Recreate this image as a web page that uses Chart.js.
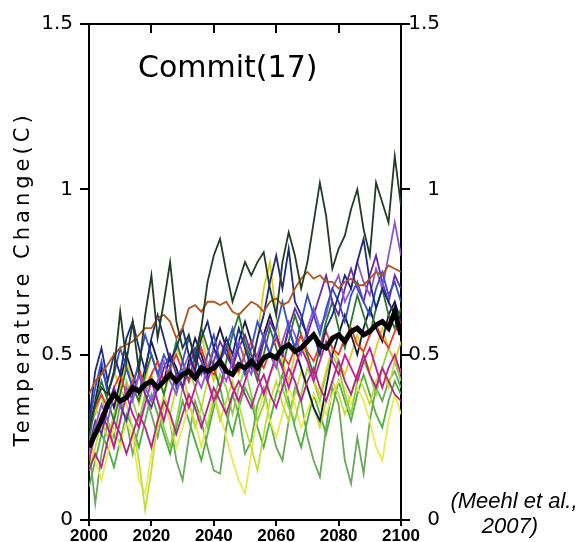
<!DOCTYPE html>
<html>
<head>
<meta charset="utf-8">
<script src="https://cdn.jsdelivr.net/npm/chart.js@4.4.1/dist/chart.umd.min.js"></script>
<style>
  html, body { margin: 0; padding: 0; background: #fff; }
</style>
</head>
<body>
<canvas id="chart" width="586" height="542"></canvas>
<script>
// years sampled every 2 years
const years = [2000,2002,2004,2006,2008,2010,2012,2014,2016,2018,
               2020,2022,2024,2026,2028,2030,2032,2034,2036,2038,
               2040,2042,2044,2046,2048,2050,2052,2054,2056,2058,
               2060,2062,2064,2066,2068,2070,2072,2074,2076,2078,
               2080,2082,2084,2086,2088,2090,2092,2094,2096,2098,
               2100];

const xTickValues = [2000, 2020, 2040, 2060, 2080, 2100];
const yTickValues = [0, 0.5, 1, 1.5];
const yTickLabels = ['0', '0.5', '1', '1.5'];

// ensemble mean (thick black)
const ensembleMean = [0.22,0.26,0.30,0.35,0.38,0.36,0.37,0.40,0.39,0.41,
                      0.42,0.40,0.42,0.44,0.42,0.44,0.45,0.43,0.46,0.45,
                      0.46,0.48,0.45,0.44,0.47,0.46,0.48,0.46,0.49,0.50,
                      0.49,0.52,0.53,0.51,0.52,0.54,0.56,0.53,0.52,0.55,
                      0.56,0.54,0.57,0.58,0.56,0.57,0.59,0.60,0.58,0.63,
                      0.56];

// the 17 committed-climate runs
const runDarkGreen = [0.28,0.35,0.40,0.38,0.45,0.63,0.48,0.60,0.45,0.62,
                      0.74,0.55,0.66,0.78,0.60,0.52,0.56,0.48,0.58,0.72,
                      0.80,0.85,0.75,0.66,0.72,0.78,0.74,0.78,0.81,0.70,
                      0.62,0.78,0.87,0.80,0.70,0.78,0.90,1.02,0.92,0.76,
                      0.82,0.86,0.94,1.00,0.88,0.80,1.02,0.96,0.90,1.10,
                      0.95];
const runBrown = [0.38,0.42,0.44,0.47,0.50,0.52,0.53,0.54,0.56,0.58,
                  0.58,0.61,0.62,0.60,0.55,0.58,0.64,0.65,0.63,0.66,
                  0.66,0.65,0.66,0.63,0.62,0.64,0.66,0.65,0.63,0.66,
                  0.67,0.65,0.66,0.70,0.73,0.75,0.73,0.74,0.72,0.72,
                  0.70,0.72,0.73,0.71,0.71,0.73,0.75,0.74,0.77,0.76,
                  0.75];
const runNavy = [0.30,0.45,0.52,0.42,0.50,0.44,0.55,0.60,0.52,0.45,
                 0.55,0.62,0.55,0.48,0.52,0.58,0.50,0.45,0.55,0.60,
                 0.52,0.48,0.55,0.50,0.58,0.52,0.46,0.55,0.62,0.72,
                 0.80,0.70,0.82,0.66,0.62,0.55,0.56,0.50,0.58,0.62,
                 0.68,0.74,0.70,0.78,0.85,0.72,0.64,0.70,0.66,0.62,
                 0.58];
const runBlue = [0.28,0.40,0.48,0.38,0.44,0.52,0.46,0.40,0.48,0.56,
                 0.50,0.44,0.50,0.46,0.40,0.48,0.55,0.50,0.44,0.50,
                 0.56,0.48,0.52,0.58,0.50,0.44,0.52,0.60,0.55,0.50,
                 0.58,0.66,0.58,0.52,0.60,0.68,0.62,0.56,0.64,0.70,
                 0.66,0.60,0.68,0.72,0.66,0.62,0.70,0.75,0.68,0.72,
                 0.66];
const runPurple = [0.20,0.28,0.35,0.30,0.38,0.34,0.40,0.36,0.44,0.40,
                   0.36,0.42,0.48,0.42,0.38,0.45,0.50,0.44,0.40,0.46,
                   0.52,0.46,0.42,0.48,0.54,0.48,0.44,0.50,0.56,0.50,
                   0.46,0.54,0.60,0.56,0.50,0.58,0.64,0.58,0.62,0.70,
                   0.74,0.66,0.70,0.78,0.72,0.68,0.76,0.70,0.80,0.90,
                   0.80];
const runViolet = [0.22,0.30,0.26,0.34,0.40,0.35,0.30,0.38,0.44,0.38,
                   0.34,0.40,0.46,0.50,0.44,0.40,0.46,0.52,0.48,0.42,
                   0.48,0.54,0.50,0.46,0.52,0.56,0.50,0.46,0.54,0.60,
                   0.56,0.50,0.58,0.64,0.60,0.56,0.62,0.68,0.74,0.66,
                   0.62,0.70,0.76,0.70,0.66,0.74,0.80,0.72,0.66,0.74,
                   0.70];
const runMagenta = [0.18,0.26,0.32,0.28,0.22,0.30,0.38,0.32,0.28,0.35,
                    0.42,0.36,0.30,0.38,0.44,0.40,0.34,0.40,0.46,0.42,
                    0.36,0.40,0.46,0.40,0.36,0.42,0.48,0.44,0.38,0.44,
                    0.50,0.46,0.40,0.46,0.52,0.48,0.42,0.48,0.54,0.48,
                    0.44,0.50,0.46,0.42,0.48,0.52,0.46,0.40,0.46,0.50,
                    0.44];
const runPink = [0.15,0.20,0.16,0.24,0.30,0.26,0.20,0.26,0.32,0.28,
                 0.22,0.30,0.36,0.32,0.26,0.32,0.38,0.34,0.28,0.34,
                 0.40,0.36,0.32,0.38,0.42,0.38,0.34,0.40,0.44,0.38,
                 0.34,0.40,0.46,0.42,0.36,0.42,0.46,0.40,0.36,0.42,
                 0.48,0.42,0.38,0.44,0.50,0.44,0.40,0.46,0.42,0.38,
                 0.36];
const runRed = [0.30,0.34,0.38,0.34,0.40,0.44,0.38,0.42,0.46,0.40,
                0.44,0.48,0.42,0.46,0.50,0.45,0.42,0.47,0.52,0.46,
                0.44,0.49,0.53,0.48,0.45,0.50,0.54,0.49,0.46,0.51,
                0.55,0.50,0.47,0.52,0.56,0.51,0.48,0.53,0.57,0.52,
                0.50,0.55,0.58,0.53,0.51,0.56,0.59,0.55,0.52,0.57,
                0.60];
const runGreenDeep = [0.24,0.35,0.42,0.36,0.30,0.38,0.46,0.40,0.36,0.44,
                      0.50,0.44,0.38,0.46,0.54,0.48,0.42,0.50,0.58,0.52,
                      0.46,0.40,0.48,0.56,0.62,0.54,0.48,0.42,0.50,0.58,
                      0.52,0.46,0.54,0.62,0.56,0.50,0.44,0.52,0.60,0.66,
                      0.58,0.52,0.60,0.68,0.62,0.56,0.64,0.70,0.62,0.58,
                      0.64];
const runDarkNavy = [0.26,0.36,0.46,0.40,0.34,0.42,0.50,0.44,0.38,0.46,
                     0.54,0.48,0.42,0.50,0.46,0.40,0.48,0.55,0.50,0.44,
                     0.52,0.58,0.52,0.46,0.54,0.60,0.54,0.48,0.56,0.62,
                     0.56,0.50,0.58,0.52,0.46,0.40,0.34,0.30,0.40,0.50,
                     0.56,0.62,0.56,0.50,0.58,0.64,0.58,0.54,0.62,0.66,
                     0.60];
const runOchre = [0.30,0.35,0.28,0.38,0.45,0.40,0.48,0.42,0.35,0.42,
                  0.50,0.45,0.38,0.44,0.52,0.48,0.42,0.50,0.56,0.48,
                  0.42,0.50,0.55,0.48,0.44,0.52,0.48,0.55,0.70,0.78,
                  0.62,0.48,0.42,0.50,0.56,0.48,0.42,0.38,0.45,0.52,
                  0.48,0.44,0.50,0.56,0.50,0.45,0.52,0.58,0.52,0.48,
                  0.54];
const runLightGreen = [0.28,0.32,0.38,0.30,0.22,0.30,0.42,0.36,0.30,0.38,
                       0.44,0.36,0.28,0.22,0.30,0.40,0.46,0.40,0.34,0.28,
                       0.36,0.44,0.40,0.32,0.40,0.46,0.38,0.30,0.35,0.44,
                       0.48,0.40,0.34,0.30,0.38,0.46,0.42,0.36,0.44,0.50,
                       0.46,0.38,0.32,0.42,0.48,0.44,0.38,0.46,0.52,0.48,
                       0.42];
const runYellowGreen = [0.15,0.22,0.30,0.25,0.32,0.40,0.35,0.28,0.18,0.03,
                        0.15,0.30,0.38,0.32,0.40,0.45,0.36,0.28,0.34,0.42,
                        0.38,0.30,0.36,0.42,0.35,0.28,0.22,0.15,0.26,0.36,
                        0.42,0.35,0.30,0.38,0.45,0.40,0.34,0.28,0.36,0.42,
                        0.38,0.32,0.38,0.44,0.40,0.35,0.42,0.46,0.40,0.48,
                        0.45];
const runYellow = [0.25,0.18,0.12,0.20,0.28,0.22,0.30,0.25,0.12,0.08,
                   0.20,0.28,0.35,0.30,0.22,0.28,0.35,0.30,0.22,0.30,
                   0.38,0.32,0.25,0.18,0.12,0.08,0.20,0.32,0.38,0.30,
                   0.25,0.32,0.40,0.35,0.28,0.33,0.38,0.35,0.32,0.38,
                   0.42,0.40,0.35,0.40,0.36,0.30,0.22,0.18,0.30,0.38,
                   0.32];
const runSage = [0.22,0.05,0.20,0.30,0.25,0.35,0.30,0.20,0.28,0.38,
                 0.32,0.25,0.35,0.30,0.18,0.12,0.25,0.36,0.30,0.22,
                 0.15,0.14,0.28,0.38,0.32,0.20,0.24,0.35,0.40,0.30,
                 0.22,0.18,0.30,0.40,0.36,0.25,0.18,0.13,0.28,0.40,
                 0.35,0.18,0.11,0.25,0.14,0.30,0.40,0.36,0.42,0.45,
                 0.40];
const runGrass = [0.10,0.18,0.26,0.22,0.16,0.24,0.32,0.28,0.22,0.30,
                  0.38,0.32,0.26,0.20,0.28,0.36,0.30,0.24,0.18,0.26,
                  0.34,0.40,0.32,0.26,0.34,0.40,0.36,0.28,0.22,0.30,
                  0.38,0.44,0.36,0.28,0.22,0.30,0.38,0.32,0.26,0.34,
                  0.42,0.36,0.30,0.38,0.44,0.38,0.32,0.28,0.36,0.42,
                  0.38];

const runs = [
  [runDarkGreen, '#1f3d22'],
  [runBrown, '#b0561a'],
  [runNavy, '#1c2a80'],
  [runBlue, '#3550c8'],
  [runPurple, '#8a5ad0'],
  [runViolet, '#6a2aa8'],
  [runRed, '#e83a2a'],
  [runMagenta, '#c8189c'],
  [runPink, '#b02880'],
  [runGreenDeep, '#2a7a2e'],
  [runDarkNavy, '#18183a'],
  [runOchre, '#d8cf28'],
  [runLightGreen, '#8fcf4a'],
  [runYellowGreen, '#c3dc3c'],
  [runYellow, '#eaea50'],
  [runSage, '#6aa85a'],
  [runGrass, '#4fb040']
];

const toPoints = arr => arr.map((v, i) => ({x: years[i], y: v}));

// first dataset is drawn on top
const datasets = [{
  data: toPoints(ensembleMean),
  borderColor: '#000',
  borderWidth: 5
}];
runs.forEach(([vals, col]) => {
  datasets.push({
    data: toPoints(vals),
    borderColor: col,
    borderWidth: 1.8
  });
});

const overlay = {
  id: 'overlay',
  afterDraw(chart) {
    const {ctx, chartArea: a, scales} = chart;
    ctx.save();
    // inward ticks on the top frame
    ctx.strokeStyle = '#000';
    ctx.lineWidth = 2;
    xTickValues.slice(1, -1).forEach(v => {
      const px = Math.round(scales.x.getPixelForValue(v));
      ctx.beginPath();
      ctx.moveTo(px, a.top);
      ctx.lineTo(px, a.top + 9);
      ctx.stroke();
    });
    ctx.fillStyle = '#000';
    // y axis title
    ctx.save();
    ctx.translate(24, 279);
    ctx.rotate(-Math.PI / 2);
    ctx.font = '21px "DejaVu Sans"';
    ctx.letterSpacing = '4px';
    ctx.textAlign = 'center';
    ctx.textBaseline = 'middle';
    ctx.fillText('Temperature Change(C)', 0, 0);
    ctx.restore();
    // panel label
    ctx.font = '30px "DejaVu Sans"';
    ctx.textAlign = 'left';
    ctx.textBaseline = 'alphabetic';
    ctx.fillText('Commit(17)', 138, 77);
    // citation
    ctx.font = 'italic 22px "Liberation Sans", Arial, sans-serif';
    ctx.textAlign = 'center';
    ctx.fillText('(Meehl et al.,', 514, 508);
    ctx.fillText('2007)', 510, 533);
    ctx.restore();
  }
};

const yScale = (pos) => ({
  type: 'linear',
  position: pos,
  min: 0,
  max: 1.5,
  afterBuildTicks: s => { s.ticks = yTickValues.map(v => ({value: v})); },
  afterFit: s => { s.width = pos === 'left' ? 89 : 39; },
  ticks: {
    color: '#000',
    font: {family: 'DejaVu Sans', size: 20},
    padding: pos === 'left' ? 7 : -2,
    crossAlign: pos === 'left' ? 'near' : 'far',
    callback: v => yTickLabels[yTickValues.indexOf(v)]
  },
  grid: {drawOnChartArea: false, color: '#000', lineWidth: 2, tickLength: 9},
  border: {display: true, color: '#000', width: 2}
});

new Chart(document.getElementById('chart'), {
  type: 'line',
  data: {datasets},
  options: {
    responsive: false,
    animation: false,
    devicePixelRatio: 1,
    layout: {autoPadding: false, padding: {left: 0, right: 146, top: 0, bottom: 0}},
    elements: {point: {radius: 0}, line: {tension: 0}},
    plugins: {legend: {display: false}, tooltip: {enabled: false}},
    scales: {
      x: {
        type: 'linear',
        position: 'bottom',
        min: 2000,
        max: 2100,
        afterBuildTicks: s => { s.ticks = xTickValues.map(v => ({value: v})); },
        afterFit: s => { s.height = 22; },
        ticks: {
          color: '#000',
          font: {family: 'Liberation Sans', size: 17, weight: 'bold'},
          padding: 0,
          maxRotation: 0,
          callback: v => String(v)
        },
        grid: {drawOnChartArea: false, color: '#000', lineWidth: 2, tickLength: 6},
        border: {display: true, color: '#000', width: 2}
      },
      xTop: {
        type: 'linear',
        position: 'top',
        min: 2000,
        max: 2100,
        afterFit: s => { s.height = 24; },
        ticks: {display: false},
        grid: {drawOnChartArea: false, drawTicks: false},
        border: {display: true, color: '#000', width: 2}
      },
      y: yScale('left'),
      yRight: yScale('right')
    }
  },
  plugins: [overlay]
});
</script>
</body>
</html>
